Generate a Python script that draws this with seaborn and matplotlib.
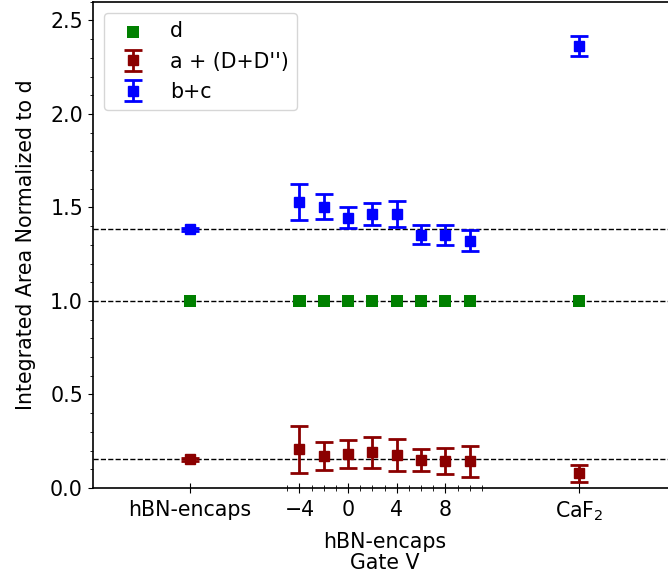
import matplotlib
matplotlib.use("Agg")
import matplotlib.pyplot as plt
import seaborn as sns
import numpy as np
from matplotlib.ticker import MultipleLocator, FixedLocator

# ---- data ----
sample_x = [-13, -4, -2, 0, 2, 4, 6, 8, 10, 19]   # hBN-encaps, gate -4..10 V, CaF2

d_vals = [1.0, 1.0, 1.0, 1.0, 1.0, 1.0, 1.0, 1.0, 1.0, 1.0]

a_vals = [0.153, 0.207, 0.171, 0.182, 0.191, 0.177, 0.150, 0.144, 0.143, 0.079]
a_err = [0.008, 0.125, 0.075, 0.075, 0.083, 0.087, 0.060, 0.070, 0.082, 0.045]

bc_vals = [1.384, 1.529, 1.505, 1.446, 1.466, 1.466, 1.354, 1.352, 1.322, 2.362]
bc_err = [0.008, 0.098, 0.065, 0.055, 0.058, 0.070, 0.050, 0.053, 0.056, 0.054]

tick_pos = [-13, -4, 0, 4, 8, 19]
tick_labels = ["hBN-encaps", "\u22124", "0", "4", "8", "CaF$_2$"]

sns.set_style("ticks")
plt.rcParams["font.family"] = ["DejaVu Sans"]
plt.rcParams["font.size"] = 14.8
plt.rcParams["mathtext.fontset"] = "dejavusans"
for key in ["text.color", "axes.labelcolor", "xtick.color", "ytick.color",
            "xtick.labelcolor", "ytick.labelcolor"]:
    plt.rcParams[key] = "black"

fig = plt.figure(figsize=(6.68, 5.78), dpi=100)
ax = fig.add_axes([0.1388, 0.1557, 0.874, 0.8413])

# reference levels from the hBN-encaps sample
for lvl in [bc_vals[0], d_vals[0], a_vals[0]]:
    ax.axhline(lvl, color="black", ls="--", lw=1.0, zorder=1)

sns.scatterplot(x=sample_x, y=d_vals, marker="s", color="green", s=75,
                edgecolor="none", label="d", ax=ax, zorder=3)

ax.errorbar(sample_x, a_vals, yerr=a_err, fmt="s", color="darkred", ms=7,
            capsize=6.5, elinewidth=2, capthick=2, label="a + (D+D'')", zorder=3)
ax.errorbar(sample_x, bc_vals, yerr=bc_err, fmt="s", color="blue", ms=7,
            capsize=6.5, elinewidth=2, capthick=2, label="b+c", zorder=3)

ax.set_xlim(-21, 27)
ax.set_ylim(0, 2.6)
ax.xaxis.set_major_locator(FixedLocator(tick_pos))
ax.set_xticklabels(tick_labels)
ax.xaxis.set_minor_locator(FixedLocator(np.arange(-5, 12, 1)))
ax.yaxis.set_major_locator(MultipleLocator(0.5))
ax.yaxis.set_minor_locator(MultipleLocator(0.1))
ax.tick_params(axis="x", which="both", direction="inout", color="black", pad=5)
ax.tick_params(axis="x", which="major", length=7)
ax.tick_params(axis="x", which="minor", length=4)
ax.tick_params(axis="y", which="both", color="black")

for sp in ax.spines.values():
    sp.set_visible(True)
    sp.set_linewidth(1.2)
    sp.set_color("black")

ax.set_xlabel("hBN-encaps\nGate V", linespacing=1.1, labelpad=6)
ax.set_ylabel("Integrated Area Normalized to d", labelpad=10)

ax.legend(loc="upper left", borderaxespad=0.55, framealpha=0.8)

fig.savefig("out.png", dpi=100)
